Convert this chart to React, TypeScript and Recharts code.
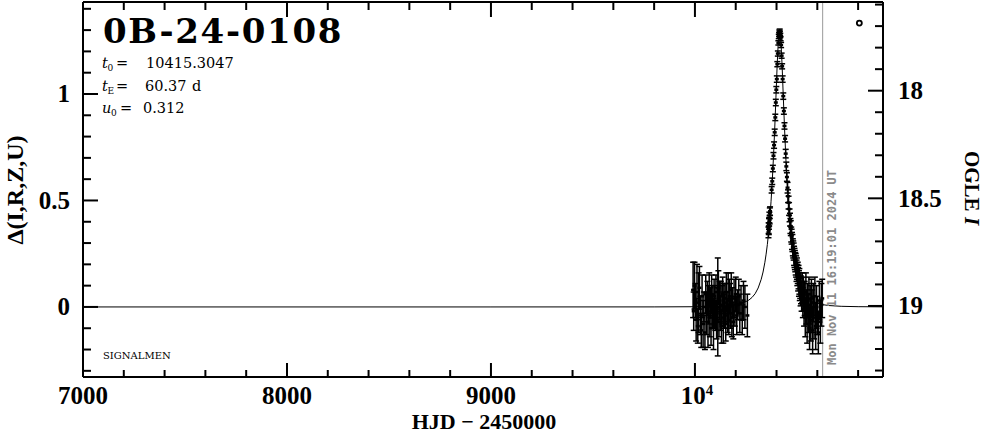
import React from "react";
import {
  ComposedChart,
  XAxis,
  YAxis,
  Scatter,
  ErrorBar,
  ReferenceLine,
  ReferenceDot,
} from "recharts";

// ---- tick values ----
const xTicks = [7000, 7200, 7400, 7600, 7800, 8000, 8200, 8400, 8600, 8800, 9000, 9200, 9400, 9600, 9800, 10000, 10200, 10400, 10600, 10800];
const leftTicks = [-0.3, -0.2, -0.1, 0, 0.1, 0.2, 0.3, 0.4, 0.5, 0.6, 0.7, 0.8, 0.9, 1, 1.1, 1.2, 1.3, 1.4];
const rightTicks = [17.6, 17.7, 17.8, 17.9, 18, 18.1, 18.2, 18.3, 18.4, 18.5, 18.6, 18.7, 18.8, 18.9, 19, 19.1, 19.2, 19.3];
const xDomain = [7000, 10922];
const leftDomain = [-0.329, 1.432];
const rightDomain = [17.588, 19.33];

// ---- model curve (HJD-2450000, delta mag) ----
const modelT = [7000, 9000, 9800, 10000, 10113, 10174, 10204, 10234, 10264, 10280, 10295, 10310, 10325, 10334, 10343, 10349, 10355, 10361, 10367, 10373, 10379, 10385, 10391, 10397, 10403, 10409, 10412, 10415.3, 10418.6, 10421.3, 10427.4, 10433.4, 10439.5, 10445.5, 10451.5, 10457.6, 10463.6, 10469.6, 10475.7, 10487.7, 10506, 10521, 10536, 10566, 10597, 10627, 10657, 10717, 10800, 10922];
const modelD = [0, 0, 0.0002, 0.001, 0.003, 0.0066, 0.0106, 0.0179, 0.032, 0.0447, 0.062, 0.089, 0.13, 0.164, 0.21, 0.248, 0.293, 0.348, 0.414, 0.494, 0.589, 0.703, 0.834, 0.982, 1.132, 1.254, 1.288, 1.303, 1.288, 1.254, 1.132, 0.982, 0.834, 0.703, 0.589, 0.494, 0.414, 0.348, 0.293, 0.209, 0.129, 0.089, 0.062, 0.032, 0.018, 0.0106, 0.0066, 0.003, 0.0012, 0.0004];

// ---- OGLE observations [t, delta, error] ----
const season2023: [number, number, number][] = [
  [9991, 0.08, 0.13], [9994, -0.02, 0.09], [9998, 0.10, 0.11], [10003, 0.03, 0.08], [10006, -0.06, 0.10],
  [10010, 0.07, 0.13], [10014, -0.09, 0.08], [10018, 0.02, 0.14], [10022, 0.09, 0.10], [10027, -0.04, 0.09],
  [10031, -0.11, 0.08], [10035, 0.05, 0.10], [10040, -0.08, 0.11], [10044, 0.00, 0.07], [10049, -0.12, 0.08],
  [10053, 0.06, 0.09], [10057, -0.03, 0.10], [10061, 0.04, 0.08], [10064, -0.07, 0.12], [10067, 0.01, 0.09],
  [10070, 0.08, 0.08], [10073, -0.05, 0.09], [10076, 0.02, 0.07], [10079, -0.10, 0.08], [10082, 0.06, 0.09],
  [10085, -0.02, 0.08], [10088, 0.03, 0.07], [10091, -0.08, 0.12], [10094, 0.05, 0.08], [10097, 0.00, 0.10],
  [10100, -0.04, 0.07], [10103, 0.07, 0.08], [10106, -0.06, 0.09], [10109, 0.02, 0.07], [10112, 0.00, 0.23],
  [10115, 0.09, 0.08], [10118, -0.07, 0.07], [10121, 0.03, 0.09], [10124, -0.03, 0.08], [10127, 0.05, 0.07],
  [10130, -0.09, 0.08], [10133, 0.01, 0.09], [10136, 0.06, 0.08], [10139, -0.05, 0.12], [10142, 0.02, 0.09],
  [10145, -0.02, 0.08], [10148, 0.04, 0.07], [10151, -0.08, 0.08], [10154, 0.07, 0.09], [10157, 0.00, 0.07],
  [10160, -0.04, 0.08], [10163, 0.03, 0.13], [10166, -0.06, 0.07], [10169, 0.05, 0.08], [10172, 0.01, 0.10],
  [10175, -0.03, 0.07], [10178, 0.08, 0.08], [10181, -0.05, 0.09], [10184, 0.02, 0.07], [10188, -0.07, 0.08],
  [10192, 0.04, 0.09], [10196, -0.02, 0.07], [10200, 0.06, 0.08], [10205, -0.04, 0.09], [10210, 0.01, 0.07],
  [10215, 0.05, 0.08], [10220, -0.03, 0.09], [10226, 0.02, 0.08], [10232, -0.06, 0.07], [10238, 0.03, 0.09],
  [10245, 0.00, 0.10], [10257, -0.04, 0.10],
];

const season2024: [number, number, number][] = [
  [10360.5, 0.35, 0.025], [10361.3, 0.37, 0.025], [10362.2, 0.36, 0.02], [10363.1, 0.39, 0.025], [10364.0, 0.40, 0.02],
  [10365.0, 0.42, 0.025], [10366.1, 0.41, 0.02], [10367.2, 0.44, 0.025], [10368.3, 0.45, 0.02],
  [10376, 0.55, 0.015], [10379, 0.59, 0.015], [10382, 0.65, 0.015], [10385, 0.71, 0.015], [10388, 0.76, 0.015],
  [10391, 0.82, 0.015], [10394, 0.89, 0.015], [10396.5, 0.96, 0.015], [10399, 1.02, 0.015], [10401.5, 1.07, 0.015],
  [10404, 1.14, 0.012], [10406.5, 1.19, 0.012], [10409, 1.24, 0.01], [10411, 1.27, 0.01], [10412.5, 1.28, 0.01],
  [10414, 1.29, 0.01], [10415.5, 1.295, 0.01], [10417, 1.285, 0.01], [10418.5, 1.275, 0.01], [10420, 1.26, 0.01],
  [10422.5, 1.23, 0.012], [10425, 1.18, 0.012], [10427.5, 1.13, 0.012], [10430, 1.07, 0.015], [10433, 0.99, 0.015],
  [10436, 0.92, 0.015], [10439, 0.85, 0.015], [10442, 0.79, 0.015], [10445, 0.72, 0.02], [10448, 0.66, 0.02],
  [10451, 0.61, 0.02], [10454, 0.56, 0.025], [10456.5, 0.52, 0.03], [10459, 0.49, 0.03], [10461.5, 0.46, 0.03],
  [10464, 0.43, 0.03], [10466, 0.41, 0.03], [10468, 0.38, 0.035], [10470, 0.37, 0.035], [10472, 0.34, 0.035],
  [10474, 0.33, 0.035], [10476, 0.31, 0.04], [10478, 0.30, 0.04], [10480, 0.28, 0.04], [10482, 0.27, 0.04],
  [10484, 0.26, 0.04], [10486, 0.24, 0.045], [10488, 0.23, 0.045], [10490, 0.22, 0.045], [10492, 0.21, 0.045],
  [10494, 0.20, 0.05], [10496, 0.19, 0.05], [10498, 0.17, 0.05], [10500, 0.18, 0.05], [10502, 0.15, 0.05],
  [10504, 0.16, 0.05], [10506, 0.13, 0.055], [10508, 0.14, 0.055], [10510, 0.11, 0.06], [10512, 0.12, 0.06],
  [10514, 0.09, 0.06], [10516, 0.10, 0.06], [10518, 0.07, 0.065], [10520, 0.08, 0.065], [10523, 0.05, 0.07],
  [10526, 0.09, 0.07], [10529, 0.02, 0.07], [10532, 0.06, 0.08], [10535, -0.01, 0.08], [10538, 0.04, 0.08],
  [10541, -0.05, 0.09], [10544, 0.07, 0.09], [10547, 0.00, 0.08], [10550, -0.08, 0.09], [10553, 0.03, 0.08],
  [10556, -0.03, 0.09], [10559, 0.06, 0.08], [10562, -0.10, 0.10], [10565, 0.01, 0.09], [10568, -0.06, 0.10],
  [10571, 0.04, 0.09], [10574, -0.02, 0.10], [10577, -0.11, 0.11], [10580, 0.02, 0.09], [10584, -0.05, 0.10],
  [10588, 0.05, 0.09], [10592, -0.09, 0.11], [10596, 0.00, 0.10], [10600, -0.04, 0.09], [10605, -0.12, 0.10],
  [10610, 0.03, 0.09], [10615, -0.07, 0.10], [10620, 0.01, 0.10], [10624, 0.04, 0.09],
];

const nowHJD = 10626.2;
const markerPoint = { t: 10806, d: 1.333 };

const modelData = modelT.map((t, i) => ({ t, d: modelD[i] }));
const obsData = [...season2023, ...season2024].map(([t, d, e]) => ({ t, d, e }));

const TICK_FONT = "'Liberation Serif', 'DejaVu Serif', serif";

const isMajorHalf = (v: number) => Math.abs(v * 2 - Math.round(v * 2)) < 1e-6;

const BottomTick = (p: any) => {
  const { x, y, payload } = p;
  const v = payload.value;
  const major = v % 1000 === 0;
  return (
    <g>
      <line x1={x} x2={x} y1={y} y2={y - (major ? 14 : 7)} stroke="#000" strokeWidth={2} />
      {major && v !== 10000 && (
        <text x={x} y={y + 27} textAnchor="middle" fontFamily={TICK_FONT} fontWeight="bold" fontSize={25} fill="#000">
          {v}
        </text>
      )}
      {major && v === 10000 && (
        <text x={x + 2} y={y + 27} textAnchor="middle" fontFamily={TICK_FONT} fontWeight="bold" fontSize={25} fill="#000">
          10<tspan fontSize={15} dy={-9}>4</tspan>
        </text>
      )}
    </g>
  );
};

const TopTick = (p: any) => {
  const { x, y, payload } = p;
  const major = payload.value % 1000 === 0;
  return <line x1={x} x2={x} y1={y} y2={y + (major ? 15 : 8)} stroke="#000" strokeWidth={2} />;
};

const LeftTick = (p: any) => {
  const { x, y, payload } = p;
  const v = payload.value;
  const major = isMajorHalf(v);
  const label = Math.abs(v) < 1e-9 ? "0" : String(v);
  return (
    <g>
      <line x1={x} x2={x + (major ? 15 : 8)} y1={y} y2={y} stroke="#000" strokeWidth={2} />
      {major && (
        <text x={x - 13} y={y + 8.5} textAnchor="end" fontFamily={TICK_FONT} fontWeight="bold" fontSize={25} fill="#000">
          {label}
        </text>
      )}
    </g>
  );
};

const RightTick = (p: any) => {
  const { x, y, payload } = p;
  const v = payload.value;
  const major = isMajorHalf(v);
  return (
    <g>
      <line x1={x} x2={x - (major ? 15 : 8)} y1={y} y2={y} stroke="#000" strokeWidth={2} />
      {major && (
        <text x={x + 15} y={y + 8.5} textAnchor="start" fontFamily={TICK_FONT} fontWeight="bold" fontSize={25} fill="#000">
          {String(v)}
        </text>
      )}
    </g>
  );
};

const PointShape = (p: any) => {
  const { cx, cy } = p;
  if (cx == null || cy == null) return <g />;
  return <rect x={cx - 2} y={cy - 1.25} width={4} height={2.5} fill="#000" />;
};

const NoShape = () => <g />;

export default function App() {
  const axisLine = { stroke: "#000", strokeWidth: 2 };
  return (
    <div style={{ position: "absolute", left: 0, top: 0, width: 986, height: 434, background: "#fff" }}>
      <ComposedChart width={986} height={434} margin={{ top: 1, right: 102, bottom: 56, left: 82 }}>
        <XAxis
          xAxisId="b"
          type="number"
          dataKey="t"
          domain={xDomain}
          ticks={xTicks}
          interval={0}
          allowDataOverflow
          tickSize={0}
          tickMargin={0}
          tickLine={false}
          axisLine={axisLine}
          height={1}
          tick={BottomTick}
        />
        <XAxis
          xAxisId="top"
          orientation="top"
          type="number"
          dataKey="t"
          domain={xDomain}
          ticks={xTicks}
          interval={0}
          allowDataOverflow
          tickSize={0}
          tickMargin={0}
          tickLine={false}
          axisLine={axisLine}
          height={1}
          tick={TopTick}
        />
        <YAxis
          yAxisId="l"
          type="number"
          dataKey="d"
          domain={leftDomain}
          ticks={leftTicks}
          interval={0}
          allowDataOverflow
          tickSize={0}
          tickMargin={0}
          tickLine={false}
          axisLine={axisLine}
          width={1}
          tick={LeftTick}
        />
        <YAxis
          yAxisId="r"
          orientation="right"
          type="number"
          domain={rightDomain}
          reversed
          ticks={rightTicks}
          interval={0}
          allowDataOverflow
          tickSize={0}
          tickMargin={0}
          tickLine={false}
          axisLine={axisLine}
          width={1}
          tick={RightTick}
        />
        <ReferenceLine xAxisId="b" yAxisId="l" x={nowHJD} stroke="#999" strokeWidth={1} />
        <Scatter
          xAxisId="b"
          yAxisId="l"
          data={modelData}
          dataKey="d"
          line={{ stroke: "#000", strokeWidth: 1 }}
          lineType="joint"
          shape={NoShape}
          isAnimationActive={false}
        />
        <Scatter
          xAxisId="b"
          yAxisId="l"
          data={obsData}
          dataKey="d"
          shape={PointShape}
          isAnimationActive={false}
        >
          <ErrorBar dataKey="e" direction="y" width={3} stroke="#000" strokeWidth={1.5} />
        </Scatter>
        <ReferenceDot
          xAxisId="b"
          yAxisId="l"
          x={markerPoint.t}
          y={markerPoint.d}
          r={2.5}
          fill="#fff"
          stroke="#000"
          strokeWidth={1.8}
        />
      </ComposedChart>
      <svg
        width={986}
        height={434}
        style={{ position: "absolute", left: 0, top: 0, pointerEvents: "none" }}
      >
        <text x={103} y={43} fontFamily="'DejaVu Serif', serif" fontWeight="bold" fontSize={34} letterSpacing={1.7} fill="#000">
          0B-24-0108
        </text>
        <g fontFamily="'DejaVu Serif', serif" fontSize={14.5} fill="#000">
          <text x={102} y={68} fontStyle="italic">t</text>
          <text x={107.5} y={71} fontSize={9}>0</text>
          <text x={116} y={68}>=</text>
          <text x={146} y={68}>10415.3047</text>

          <text x={102} y={91} fontStyle="italic">t</text>
          <text x={107.5} y={94} fontSize={9}>E</text>
          <text x={116} y={91}>=</text>
          <text x={145} y={91}>60.37</text>
          <text x={192} y={91}>d</text>

          <text x={102} y={113} fontStyle="italic">u</text>
          <text x={111} y={116} fontSize={9}>0</text>
          <text x={120} y={113}>=</text>
          <text x={143} y={113}>0.312</text>
        </g>
        <text x={103} y={359} fontFamily="'DejaVu Serif', serif" fontSize={10} fill="#000">
          SIGNALMEN
        </text>
        <text
          x={836}
          y={365}
          transform="rotate(-90 836 365)"
          fontFamily="'DejaVu Sans Mono', monospace"
          fontWeight="bold"
          fontSize={12}
          fill="#8a8a8a"
        >
          Mon Nov 11 16:19:01 2024 UT
        </text>
        <text
          x={23}
          y={190}
          transform="rotate(-90 23 190)"
          textAnchor="middle"
          fontFamily={TICK_FONT}
          fontWeight="bold"
          fontSize={24}
          fill="#000"
        >
          Δ(I,R,Z,U)
        </text>
        <text
          x={965}
          y={188}
          transform="rotate(90 965 188)"
          textAnchor="middle"
          fontFamily={TICK_FONT}
          fontWeight="bold"
          fontSize={21}
          fill="#000"
        >
          OGLE <tspan fontStyle="italic">I</tspan>
        </text>
        <text x={484} y={429} textAnchor="middle" fontFamily={TICK_FONT} fontWeight="bold" fontSize={22} fill="#000">
          HJD − 2450000
        </text>
      </svg>
    </div>
  );
}
